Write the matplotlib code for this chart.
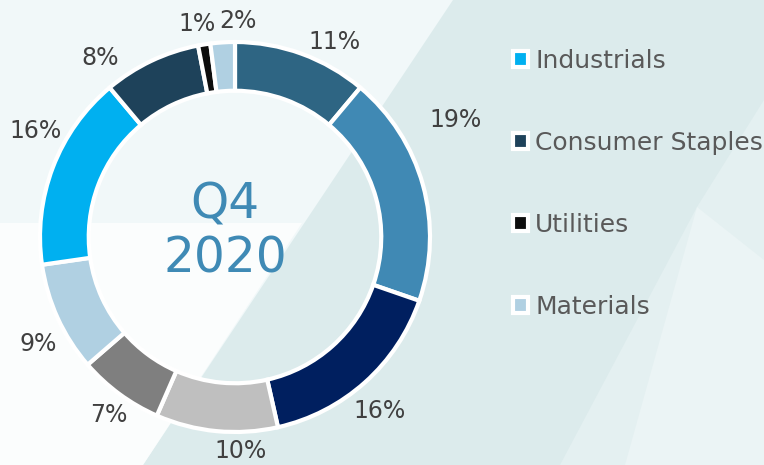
import matplotlib
matplotlib.use("Agg")
import matplotlib.pyplot as plt
from matplotlib.patches import Polygon
import numpy as np

# sector weights, clockwise from 12 o'clock (%)
values = [11, 19, 16, 10, 7, 9, 16, 8, 1, 2]
colors = ["#2e6583", "#4089b4", "#001f5f", "#bfbfbf", "#7f7f7f",
          "#b0d0e2", "#00b0f0", "#1e425a", "#0d0d0d", "#b0d0e2"]
# only the last four legend rows are visible in the source
legend_names = ["Industrials", "Consumer Staples", "Utilities", "Materials"]
legend_idx = [6, 7, 8, 9]
center_text = ["Q4", "2020"]

# label placement tweaks (deg offset from wedge middle, radius in ring units)
lab_dtheta = [7, -12.5, 2, -7, -1, -4, 7, -11.5, -1, 4.5]
lab_r = [1.12, 1.28, 1.16, 1.10, 1.12, 1.15, 1.16, 1.15, 1.11, 1.11]

W, H = 764, 465
cx, cy, R = 235, 465 - 237, 195

fig = plt.figure(figsize=(W / 100, H / 100), dpi=100)
fig.patch.set_facecolor("#dcebec")

# background shapes (pixel coords, y from bottom)
def bg(pts, c, a=1.0):
    p = Polygon([(x / W, y / H) for x, y in pts], closed=True, facecolor=c,
                edgecolor="none", alpha=a, transform=fig.transFigure, zorder=-10)
    fig.patches.append(p)

bg([(0, 0), (143, 0), (453, 465), (0, 465)], "#f1f8f9")
bg([(0, 0), (143, 0), (302, 242), (0, 242)], "#fbfdfd")
bg([(697, 258), (764, 365), (764, 0), (560, 0)], "#e4f0f1")
bg([(697, 258), (764, 205), (764, 0), (625, 0)], "#ebf4f5")

ax = fig.add_axes([0, 0, 1, 1])
ax.axis("off")
ax.patch.set_alpha(0)

wedges, _ = ax.pie(values, colors=colors, startangle=90, counterclock=False,
                   radius=1, wedgeprops=dict(width=0.25, edgecolor="white", linewidth=3))
ax.set_xlim(-cx / R, (W - cx) / R)
ax.set_ylim(-cy / R, (H - cy) / R)

for w, v, dt, r in zip(wedges, values, lab_dtheta, lab_r):
    th = np.deg2rad((w.theta1 + w.theta2) / 2 - dt)
    ax.text(r * np.cos(th), r * np.sin(th), f"{v}%", ha="center", va="center",
            fontsize=17, color="#404040", family="DejaVu Sans")

ax.text(-0.05, 0.165, center_text[0], ha="center", va="center", fontsize=35,
        color="#3f8ab5", family="DejaVu Sans")
ax.text(-0.05, -0.11, center_text[1], ha="center", va="center", fontsize=35,
        color="#3f8ab5", family="DejaVu Sans")

handles = [wedges[i] for i in legend_idx]
leg = ax.legend(handles, legend_names, loc="upper left",
                bbox_to_anchor=(500 / W, 1 - 36 / H), bbox_transform=fig.transFigure,
                frameon=False, fontsize=18, labelspacing=2.33,
                handlelength=0.6, handleheight=0.6, handletextpad=0.3, borderpad=0)
for t in leg.get_texts():
    t.set_color("#595959")

fig.savefig("out.png", dpi=100, facecolor=fig.get_facecolor())
